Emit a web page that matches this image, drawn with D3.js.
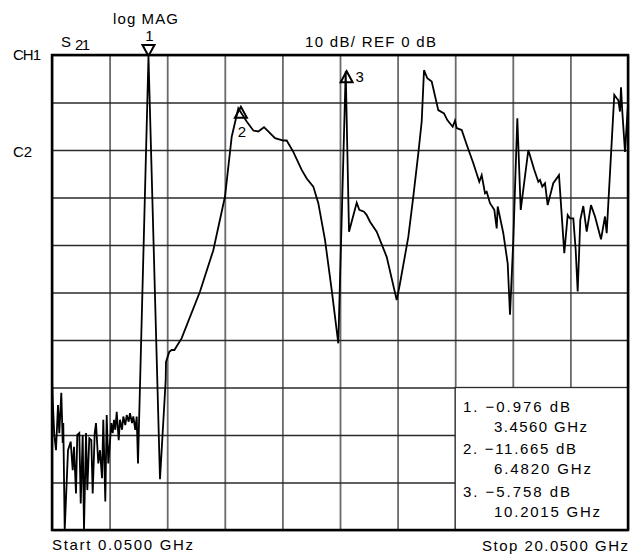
<!DOCTYPE html>
<html>
<head>
<meta charset="utf-8">
<script src="https://cdn.jsdelivr.net/npm/d3@7/dist/d3.min.js"></script>
<style>
  html, body { margin: 0; padding: 0; background: #fff; }
  svg text { font-family: "Liberation Sans", Arial, Helvetica, sans-serif; font-size: 15px; fill: #000; }
</style>
</head>
<body>
<div id="chart"></div>
<script>
// S21 trace (GHz, dB)
const freqGHz = [
  0.05, 0.074, 0.130, 0.189, 0.258, 0.303, 0.373, 0.422, 0.442, 0.491,
  0.606, 0.699, 0.769, 0.814, 0.883, 0.928, 0.998, 1.047, 1.116, 1.161,
  1.231, 1.276, 1.345, 1.415, 1.463, 1.533, 1.578, 1.658, 1.717, 1.786,
  1.831, 1.901, 1.949, 2.005, 2.064, 2.109, 2.158, 2.203, 2.248, 2.297,
  2.366, 2.411, 2.481, 2.526, 2.595, 2.644, 2.713, 2.758, 2.828, 2.873,
  2.942, 2.991, 3.036, 3.40, 3.800, 3.998, 4.008, 4.123, 4.206, 4.300,
  4.553, 5.189, 5.651, 6.057, 6.290, 6.519, 6.810, 7.040, 7.213, 7.411,
  7.560, 7.793, 8.081, 8.199, 8.428, 8.720, 8.894, 9.123, 9.297, 9.529,
  9.762, 9.991, 10.248, 10.363, 10.630, 10.720, 10.883, 10.977, 11.092, 11.324,
  11.671, 12.019, 12.133, 12.422, 12.595, 12.769, 12.887, 12.967, 13.082, 13.234,
  13.463, 13.661, 13.776, 13.963, 14.043, 14.102, 14.276, 14.450, 14.679, 14.887,
  14.970, 15.085, 15.144, 15.258, 15.408, 15.491, 15.526, 15.720, 15.873, 15.953,
  16.068, 16.207, 16.325, 16.589, 16.797, 16.936, 16.994, 17.074, 17.168, 17.261,
  17.455, 17.654, 17.838, 17.956, 18.036, 18.151, 18.234, 18.303, 18.394, 18.498,
  18.616, 18.765, 18.904, 19.113, 19.251, 19.310, 19.574, 19.657, 19.713, 19.772,
  19.807, 19.852, 19.946, 20.026, 20.05
];
const s21dB = [
  -68.5, -72.6, -80.0, -83.2, -73.7, -79.6, -71.1, -81.7, -77.5, -100,
  -83.2, -81.4, -87.4, -82.5, -92.3, -80.0, -79.6, -94.4, -80.0, -100,
  -79.6, -91.6, -80.7, -81.1, -92.3, -79.6, -77.5, -86.0, -83.2, -89.1,
  -76.8, -94.0, -75.8, -86.0, -81.4, -77.5, -79.6, -76.8, -78.9, -75.1,
  -81.1, -76.8, -78.9, -76.1, -77.9, -75.8, -77.2, -75.4, -77.5, -76.1,
  -78.9, -76.1, -86.0, -0.3, -89.3, -68.4, -64.6, -62.5, -62.1, -62.1,
  -59.6, -49.8, -41.1, -29.8, -17.2, -11.2, -14.0, -15.9, -16.1, -15.2,
  -16.1, -17.5, -18.0, -18.0, -20.4, -24.2, -26.0, -27.7, -31.2, -38.9,
  -49.5, -60.7, -3.4, -37.2, -31.1, -32.6, -33.0, -33.7, -35.1, -37.2,
  -42.5, -51.6, -48.1, -38.3, -29.8, -20.7, -14.0, -3.2, -4.9, -5.6,
  -11.6, -12.3, -13.7, -15.1, -13.8, -15.4, -15.8, -18.9, -22.8, -26.7,
  -25.3, -29.1, -28.8, -31.2, -32.6, -36.5, -31.9, -37.5, -43.9, -54.7,
  -38.9, -13.3, -32.6, -20.0, -24.2, -26.7, -26.3, -27.7, -27.0, -31.6,
  -27.0, -25.3, -41.7, -33.7, -34.4, -34.4, -41.1, -49.8, -34.7, -31.8,
  -37.2, -31.6, -34.0, -38.8, -34.0, -37.5, -8.4, -9.1, -9.5, -11.9,
  -6.8, -11.9, -20.4, -12.6, -10.5
];

// markers as drawn on screen
const markerId = ['1', '2', '3'];
const markerFreq = [3.40, 6.61, 10.28];
const markerDb = [-0.2, -10.9, -3.4];
const markerPointsDown = [true, false, false];

// marker readout box
const readoutDb = ['\u22120.976', '\u221211.665', '\u22125.758'];
const readoutFreq = ['3.4560', '6.4820', '10.2015'];

const startGHz = 0.05, stopGHz = 20.05;
const refDb = 0, dbPerDiv = 10, divisions = 10;

(function () {
  const W = 631, H = 555;
  const pl = 52, pr = 628, pt = 55, pb = 530;

  const svg = d3.select('#chart').append('svg')
    .attr('width', W).attr('height', H);

  // analyzer font is wide spaced; stretch spacing to the plotted widths
  function label(x, y, str, len, anchor) {
    const t = svg.append('text').attr('x', x).attr('y', y).text(str);
    if (len) t.attr('textLength', len).attr('lengthAdjust', 'spacing');
    if (anchor) t.attr('text-anchor', anchor);
    return t;
  }

  const x = d3.scaleLinear().domain([startGHz, stopGHz]).range([pl, pr]);
  const y = d3.scaleLinear().domain([refDb - dbPerDiv * divisions, refDb]).range([pb, pt]);

  const xGrid = d3.range(divisions + 1).map(i => startGHz + i * (stopGHz - startGHz) / divisions);
  const yGrid = d3.range(divisions + 1).map(i => refDb - i * dbPerDiv);

  // grid
  const grid = svg.append('g').attr('class', 'grid');
  grid.append('g')
    .attr('transform', `translate(0,${pb})`)
    .call(d3.axisBottom(x).tickValues(xGrid).tickSize(-(pb - pt)).tickFormat(''))
    .call(g => g.select('.domain').remove())
    .call(g => g.selectAll('line').attr('stroke', '#6a6a6a').attr('stroke-width', 1.8));
  grid.append('g')
    .attr('transform', `translate(${pl},0)`)
    .call(d3.axisLeft(y).tickValues(yGrid).tickSize(-(pr - pl)).tickFormat(''))
    .call(g => g.select('.domain').remove())
    .call(g => g.selectAll('line').attr('stroke', '#2a2a2a').attr('stroke-width', 1.3));

  // readout box hides the lower right grid cells
  const boxX = x(xGrid[7]), boxY = y(yGrid[7]);
  svg.append('rect')
    .attr('x', boxX).attr('y', boxY)
    .attr('width', pr - boxX).attr('height', pb - boxY)
    .attr('fill', '#fff').attr('stroke', '#2a2a2a').attr('stroke-width', 1.3);

  // frame
  svg.append('rect')
    .attr('x', pl).attr('y', pt)
    .attr('width', pr - pl).attr('height', pb - pt)
    .attr('fill', 'none').attr('stroke', '#000').attr('stroke-width', 2.5);

  // trace
  const line = d3.line().x(d => x(d[0])).y(d => y(d[1]));
  svg.append('path')
    .datum(d3.zip(freqGHz, s21dB))
    .attr('d', line)
    .attr('fill', 'none')
    .attr('stroke', '#000')
    .attr('stroke-width', 1.8)
    .attr('stroke-linejoin', 'miter');

  // markers
  const tri = 12, triH = 11;
  markerId.forEach((id, i) => {
    const px = x(markerFreq[i]), py = y(markerDb[i]);
    const dir = markerPointsDown[i] ? -1 : 1;
    svg.append('path')
      .attr('d', `M${px},${py} L${px - tri / 2},${py + dir * triH} L${px + tri / 2},${py + dir * triH} Z`)
      .attr('fill', 'none').attr('stroke', '#000').attr('stroke-width', 2);
    if (i === 0) label(px + 1, py - triH - 4, id, null, 'middle');
    else if (i === 1) label(px + 1, py + triH + 19, id, null, 'middle');
    else label(px + 9, py + triH, id);
  });

  // header labels
  label(113, 24, 'log MAG', 65);
  label(61, 47, 'S');
  label(75, 50, '21', 15);
  label(305, 47, `${dbPerDiv} dB/ REF ${refDb} dB`, 131);
  label(13, 60, 'CH1', 28);
  label(13, 157, 'C2', 19);

  // footer
  label(52, 550, `Start ${startGHz.toFixed(4)} GHz`, 141);
  label(482, 551, `Stop ${stopGHz.toFixed(4)} GHz`, 146);

  // readouts
  const dbLen = [107, 113, 107], fLen = [93, 97, 106];
  readoutDb.forEach((v, i) => {
    const y0 = 411.5 + i * 42.5;
    label(463, y0, `${i + 1}. ${v} dB`, dbLen[i]);
    label(494, y0 + 20, `${readoutFreq[i]} GHz`, fLen[i]);
  });
})();
</script>
</body>
</html>
